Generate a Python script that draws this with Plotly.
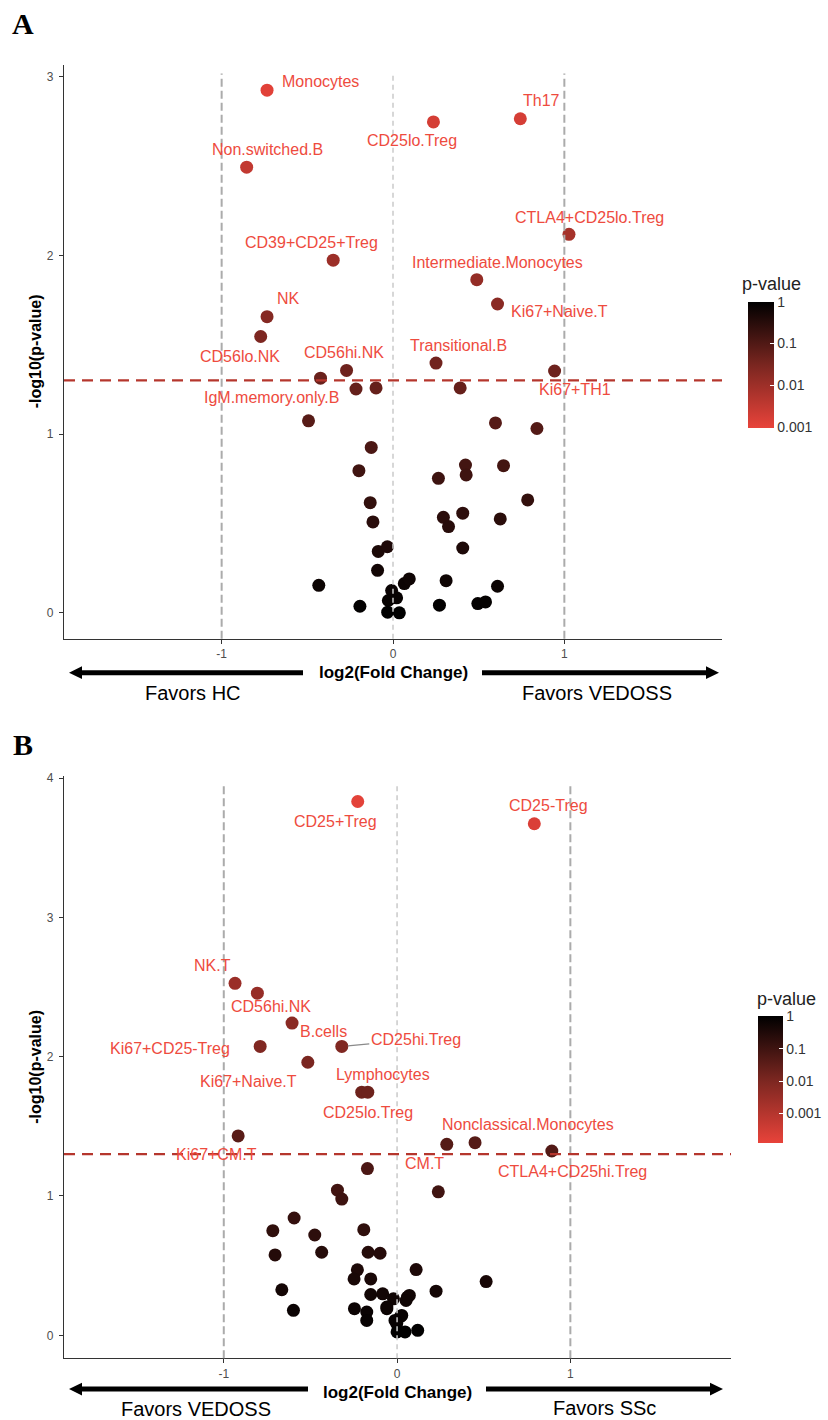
import plotly.graph_objects as go

W, H = 828, 1420

# ---------------- Panel A data (VEDOSS vs HC) ----------------
a_names = ["Monocytes", "Non.switched.B", "CD39+CD25+Treg", "NK", "CD56lo.NK", "CD56hi.NK",
           "IgM.memory.only.B", "CD25lo.Treg", "Th17", "CTLA4+CD25lo.Treg",
           "Intermediate.Monocytes", "Ki67+Naive.T", "Transitional.B", "Ki67+TH1"] + [""] * 37
a_log2fc = [-0.735, -0.854, -0.349, -0.735, -0.772, -0.271, -0.423, 0.236, 0.743, 1.027,
            0.489, 0.610, 0.251, 0.943,
            -0.216, -0.099, -0.493, -0.127, -0.199, -0.133, -0.117, -0.086, -0.033, -0.090,
            -0.433, -0.193, 0.066, 0.095, -0.008, -0.027, 0.021, -0.031, 0.037,
            0.392, 0.598, 0.840, 0.423, 0.645, 0.427, 0.265, 0.786, 0.407, 0.294, 0.626,
            0.324, 0.407, 0.310, 0.610, 0.271, 0.495, 0.540]
a_neglog10p = [2.926, 2.495, 1.974, 1.658, 1.547, 1.357, 1.314, 2.748, 2.766, 2.119,
               1.865, 1.729, 1.398, 1.354,
               1.253, 1.259, 1.075, 0.926, 0.796, 0.617, 0.509, 0.344, 0.370, 0.238,
               0.154, 0.037, 0.164, 0.190, 0.125, 0.069, 0.084, 0.004, 0.000,
               1.259, 1.063, 1.032, 0.827, 0.824, 0.772, 0.753, 0.632, 0.558, 0.535, 0.526,
               0.483, 0.363, 0.180, 0.149, 0.043, 0.052, 0.061]

# ---------------- Panel B data (SSc vs VEDOSS) ----------------
b_names = ["CD25+Treg", "CD25-Treg", "NK.T", "CD56hi.NK", "B.cells", "CD25hi.Treg",
           "Ki67+CD25-Treg", "Ki67+Naive.T", "Lymphocytes", "CD25lo.Treg", "Ki67+CM.T",
           "CM.T", "Nonclassical.Monocytes", "CTLA4+CD25hi.Treg"] + [""] * 38
b_log2fc = [-0.227, 0.792, -0.935, -0.806, -0.606, -0.319, -0.790, -0.515, -0.204, -0.169,
            -0.917, 0.287, 0.450, 0.893,
            -0.171, -0.344, -0.319, 0.238, -0.594, -0.717, -0.475, -0.192, -0.704, -0.435,
            -0.167, -0.098, -0.229, -0.248, -0.152, -0.665, -0.598, -0.152, -0.083, -0.021,
            0.060, -0.246, -0.175, -0.175, -0.059, 0.027, -0.002, 0.000, 0.046, 0.119,
            0.110, 0.225, 0.514, 0.071, 0.052, 0.021, -0.012, -0.059]
b_neglog10p = [3.832, 3.672, 2.527, 2.456, 2.241, 2.074, 2.074, 1.960, 1.745, 1.745,
               1.431, 1.371, 1.383, 1.323,
               1.197, 1.042, 0.978, 1.030, 0.842, 0.751, 0.720, 0.758, 0.577, 0.596,
               0.596, 0.589, 0.470, 0.405, 0.405, 0.327, 0.179, 0.293, 0.298, 0.262,
               0.274, 0.191, 0.167, 0.107, 0.191, 0.143, 0.084, 0.024, 0.024, 0.036,
               0.472, 0.317, 0.386, 0.286, 0.250, 0.136, 0.107, 0.203]

p_tickvals = [0, -1, -2, -3]
p_ticktext = ["1", "0.1", "0.01", "0.001"]
threshold = 1.30103  # -log10(0.05)

# label offsets in pixels (dx right, dy up)
a_offsets = {"Monocytes": (53, 9), "Non.switched.B": (21, 18), "CD39+CD25+Treg": (-22, 18),
             "NK": (21, 18), "CD56lo.NK": (-21, -20), "CD56hi.NK": (-3, 18),
             "IgM.memory.only.B": (-49, -19), "CD25lo.Treg": (-21, -19), "Th17": (21, 18),
             "CTLA4+CD25lo.Treg": (21, 17), "Intermediate.Monocytes": (21, 17),
             "Ki67+Naive.T": (62, -8), "Transitional.B": (22, 18), "Ki67+TH1": (20, -19)}
b_offsets = {"CD25+Treg": (-22, -20), "CD25-Treg": (14, 18), "NK.T": (-23, 18),
             "CD56hi.NK": (14, -13), "B.cells": (31, -8), "CD25hi.Treg": (74, 7),
             "Ki67+CD25-Treg": (-90, -2), "Ki67+Naive.T": (-59, -19), "Lymphocytes": (21, 18),
             "CD25lo.Treg": (0, -20), "Ki67+CM.T": (-22, -19), "CM.T": (-22, -19),
             "Nonclassical.Monocytes": (53, 18), "CTLA4+CD25hi.Treg": (21, -20)}

RED = "#E8433A"
TXT_RED = "#EE4B3E"
FONT = "Liberation Sans, Arial, sans-serif"


def PX(x):
    return x / W


def PY(y):
    return 1 - y / H


def paper_text(text, x, y, size, color="#000000", family=FONT, angle=0):
    return dict(x=PX(x), y=PY(y), xref="paper", yref="paper", text=text,
                xanchor="center", yanchor="middle", textangle=angle, showarrow=False,
                font=dict(size=size, color=color, family=family))


fig = go.Figure()

panels = [
    dict(names=a_names, x=a_log2fc, y=a_neglog10p, offs=a_offsets, xa="x", ya="y",
         dom=(64, 722, 60, 636), xr=[-1.92, 1.92], yr=[-0.145, 3.068], yt=[0, 1, 2, 3],
         cmin=-3.02, cb=(748, 298, 424, 26), cbtitle=(771, 280),
         ytitle=(35.5, 348), xtitle=(393, 670), arrow_y=670,
         larrow=(303, 69), rarrow=(482, 719), left_txt=("Favors HC", 193, 690),
         right_txt=("Favors VEDOSS", 597, 690), letter=("A", 23, 19)),
    dict(names=b_names, x=b_log2fc, y=b_neglog10p, offs=b_offsets, xa="x2", ya="y2",
         dom=(64, 731, 774, 1358), xr=[-1.922, 1.927], yr=[-0.1645, 4.013], yt=[0, 1, 2, 3, 4],
         cmin=-3.92, cb=(758, 1015, 1142, 25), cbtitle=(786, 998),
         ytitle=(35.5, 1066), xtitle=(397, 1392), arrow_y=1389,
         larrow=(308, 69), rarrow=(486, 723), left_txt=("Favors VEDOSS", 196, 1409),
         right_txt=("Favors SSc", 604, 1408), letter=("B", 23, 742)),
]

annotations = []
shapes = []
layout_axes = {}

for i, P in enumerate(panels):
    sfx = "" if i == 0 else "2"
    x0, x1, y0, y1 = P["dom"]
    colors = [-v for v in P["y"]]
    cbx, cbt, cbb, cbw = P["cb"]
    fig.add_trace(go.Scatter(
        x=P["x"], y=P["y"], mode="markers", xaxis=P["xa"], yaxis=P["ya"],
        hovertext=P["names"], showlegend=False,
        marker=dict(size=13, color=colors, cmin=P["cmin"], cmax=0,
                    colorscale=[[0, RED], [0.5, "#7A2620"], [1, "#000000"]],
                    line=dict(width=0), showscale=True,
                    colorbar=dict(x=PX(cbx), xanchor="left", y=PY((cbt + cbb) / 2),
                                  yanchor="middle", len=cbb - cbt, lenmode="pixels",
                                  thickness=cbw, thicknessmode="pixels",
                                  tickvals=p_tickvals, ticktext=p_ticktext,
                                  ticks="inside", tickcolor="white", ticklen=4,
                                  tickfont=dict(size=14, color="#333333", family=FONT),
                                  outlinewidth=0, xpad=0, ypad=0)),
    ))
    layout_axes["xaxis" + sfx] = dict(
        domain=[PX(x0), PX(x1)], range=P["xr"], anchor="y" + sfx, showline=True,
        linecolor="#333333", linewidth=1.3, ticks="outside", ticklen=4, tickcolor="#333333",
        tickvals=[-1, 0, 1], ticktext=["-1", "0", "1"],
        tickfont=dict(size=12, color="#4D4D4D", family=FONT),
        showgrid=False, zeroline=False)
    layout_axes["yaxis" + sfx] = dict(
        domain=[PY(y1), PY(y0)], range=P["yr"], anchor="x" + sfx, showline=True,
        linecolor="#333333", linewidth=1.3, ticks="outside", ticklen=4, tickcolor="#333333",
        tickvals=P["yt"], tickfont=dict(size=12, color="#4D4D4D", family=FONT),
        ticklabelstandoff=3, showgrid=False, zeroline=False)

    xref, yref = P["xa"], P["ya"]
    # vertical reference lines
    for xv, col, wd, dash in [(-1, "#ABABAB", 2, "8px,4px"), (1, "#ABABAB", 2, "8px,4px"),
                              (0, "#CACACA", 1.5, "5px,4px")]:
        shapes.append(dict(type="line", xref=xref, yref=yref + " domain", x0=xv, x1=xv,
                           y0=0, y1=0.985, line=dict(color=col, width=wd, dash=dash),
                           layer="above"))
    shapes.append(dict(type="line", xref=xref + " domain", yref=yref, x0=0, x1=1,
                       y0=threshold, y1=threshold,
                       line=dict(color="#B5362D", width=2.2, dash="11px,7px"), layer="above"))

    # point labels
    for nm, xv, yv in zip(P["names"], P["x"], P["y"]):
        if not nm:
            continue
        dx, dy = P["offs"][nm]
        if nm == "CD25hi.Treg":
            annotations.append(dict(x=xv, y=yv, xref=xref, yref=yref, text=nm,
                                    showarrow=True, arrowhead=0, arrowwidth=1.2,
                                    arrowcolor="#8A8A8A", ax=dx, ay=-dy, standoff=6,
                                    font=dict(size=16, color=TXT_RED, family=FONT)))
        else:
            annotations.append(dict(x=xv, y=yv, xref=xref, yref=yref, text=nm,
                                    xanchor="center", yanchor="middle",
                                    showarrow=False, xshift=dx, yshift=dy,
                                    font=dict(size=16, color=TXT_RED, family=FONT)))

    # axis titles
    tx, ty = P["ytitle"]
    annotations.append(paper_text("<b>-log10(p-value)</b>", tx, ty, 16, angle=-90))
    tx, ty = P["xtitle"]
    annotations.append(paper_text("<b>log2(Fold Change)</b>", tx, ty, 17))
    # arrows
    ay = P["arrow_y"]
    for tail, tip in [P["larrow"], P["rarrow"]]:
        sgn = 1 if tip > tail else -1
        base = tip - sgn * 13
        shapes.append(dict(type="line", xref="paper", yref="paper", x0=PX(tail), x1=PX(base),
                           y0=PY(ay), y1=PY(ay), line=dict(color="#000000", width=5)))
        shapes.append(dict(type="path", xref="paper", yref="paper",
                           path=f"M {PX(tip)} {PY(ay)} L {PX(base)} {PY(ay - 6.5)} "
                                f"L {PX(base)} {PY(ay + 6.5)} Z",
                           fillcolor="#000000", line=dict(width=0)))
    for t, tx, ty in [P["left_txt"], P["right_txt"]]:
        annotations.append(paper_text(t, tx, ty, 20))
    # colorbar title
    tx, ty = P["cbtitle"]
    annotations.append(paper_text("p-value", tx, ty, 18, color="#222222"))
    # panel letter
    t, tx, ty = P["letter"]
    annotations.append(paper_text(f"<b>{t}</b>", tx, ty, 30,
                                  family="Liberation Serif, Times New Roman, serif"))

fig.update_layout(width=W, height=H, margin=dict(l=0, r=0, t=0, b=0),
                  paper_bgcolor="white", plot_bgcolor="white",
                  annotations=annotations, shapes=shapes, **layout_axes)

fig.write_html("out.html")
